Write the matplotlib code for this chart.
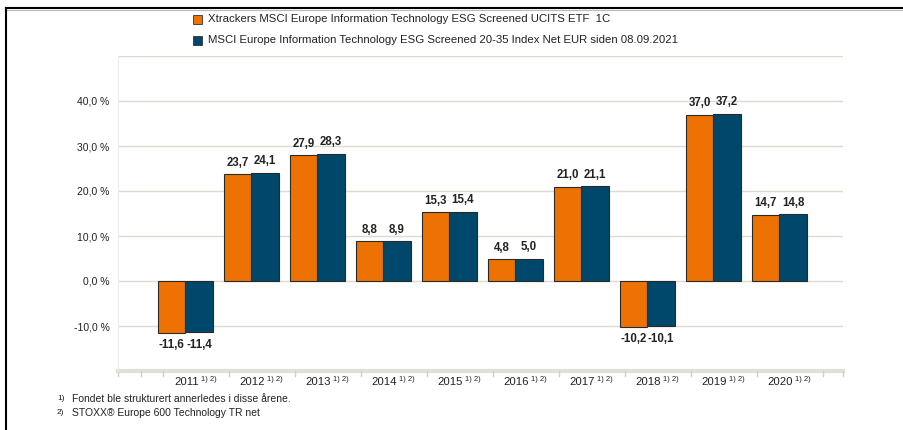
import matplotlib
matplotlib.use("Agg")
import matplotlib.pyplot as plt
from matplotlib.patches import Rectangle
from matplotlib.lines import Line2D
import numpy as np

plt.rcParams['font.family'] = ['Liberation Sans', 'DejaVu Sans']

years = ["2011", "2012", "2013", "2014", "2015", "2016", "2017", "2018", "2019", "2020"]
fund = [-11.6, 23.7, 27.9, 8.8, 15.3, 4.8, 21.0, -10.2, 37.0, 14.7]
index = [-11.4, 24.1, 28.3, 8.9, 15.4, 5.0, 21.1, -10.1, 37.2, 14.8]
series_names = ["Xtrackers MSCI Europe Information Technology ESG Screened UCITS ETF  1C",
                "MSCI Europe Information Technology ESG Screened 20-35 Index Net EUR siden 08.09.2021"]
yticks = [-10, 0, 10, 20, 30, 40]
footnotes = ["Fondet ble strukturert annerledes i disse årene.",
             "STOXX® Europe 600 Technology TR net"]

c_fund = "#EE7203"
c_index = "#00486B"
grid_c = "#DDD9D3"

W, H = 904, 430
fig = plt.figure(figsize=(W / 100, H / 100), dpi=100)

# axes placement in pixels
ax_l, ax_r, ax_t, ax_b = 118, 843, 56, 371
ax = fig.add_axes([ax_l / W, 1 - ax_b / H, (ax_r - ax_l) / W, (ax_b - ax_t) / H])

n = len(years)
x = np.arange(n)
bw = 0.41
off = -0.16
ax.bar(x + off - bw / 2, fund, bw, color=c_fund, edgecolor="#2a2a2a", linewidth=0.8, zorder=3)
ax.bar(x + off + bw / 2, index, bw, color=c_index, edgecolor="#2a2a2a", linewidth=0.8, zorder=3)

ax.set_ylim(-20, 50)
ax.set_xlim(-0.5 - 45 / 66, n - 0.5 + 20 / 66)

for v in [-10, 0, 10, 20, 30, 40, 50]:
    ax.axhline(v, color=grid_c, linewidth=1.0, zorder=1)

for s in ["top", "right", "bottom"]:
    ax.spines[s].set_visible(False)
ax.spines["left"].set_color("#EEEBE7")
ax.spines["left"].set_linewidth(0.8)

ax.set_yticks(yticks)
ax.set_yticklabels([f"{v:.1f}".replace(".", ",") + " %" for v in yticks], fontsize=7.5, color="#222222")
ax.tick_params(axis="y", length=0, pad=6)
ax.set_xticks([])

# bottom band
ax.axhline(-20, color="#E2DED8", linewidth=3.0, zorder=2, clip_on=False)
tick_pos = [-0.5 - 45 / 66, -0.5 - 22 / 66] + [i - 0.5 for i in range(n + 1)] + [n - 0.5 + 20 / 66]
for tp in tick_pos:
    ax.plot([tp, tp], [-20, -21.2], color="#D3CEC7", linewidth=1.0, clip_on=False, zorder=2)

# value labels
def fmt(v):
    return f"{v:.1f}".replace(".", ",")

for i in range(n):
    for val, xo in [(fund[i], off - bw / 2), (index[i], off + bw / 2)]:
        if val >= 0:
            ax.text(i + xo, val + 1.2, fmt(val), ha="center", va="bottom", fontsize=8.3, fontweight="bold", color="#222222")
        else:
            ax.text(i + xo, val - 1.4, fmt(val), ha="center", va="top", fontsize=8.3, fontweight="bold", color="#222222")

# year labels
trans = ax.get_xaxis_transform()
for i, yr in enumerate(years):
    ax.text(i + 0.04, -0.035, yr, ha="right", va="center", fontsize=8.2, color="#222222", transform=trans)
    ax.text(i + 0.08, -0.027, "1) 2)", ha="left", va="center", fontsize=5.5, color="#222222", transform=trans)

# legend
for k, (name, col) in enumerate(zip(series_names, [c_fund, c_index])):
    yc = 19 + 21 * k
    fig.patches.append(Rectangle((193 / W, 1 - (yc + 4.5) / H), 9 / W, 9 / H, transform=fig.transFigure,
                                 facecolor=col, edgecolor="#333333", linewidth=0.6))
    fig.text(208 / W, 1 - yc / H, name, ha="left", va="center", fontsize=8.2, color="#222222")

# footnotes
for k, t in enumerate(footnotes):
    yc = 399 + 14 * k
    fig.text(57 / W, 1 - yc / H, f"{k + 1})", ha="left", va="center", fontsize=6, color="#222222")
    fig.text(72 / W, 1 - yc / H, t, ha="left", va="center", fontsize=7.5, color="#222222")

# frame
fig.add_artist(Line2D([6 / W, 1], [1 - 8 / H, 1 - 8 / H], transform=fig.transFigure, color="black", linewidth=1.5))
fig.add_artist(Line2D([6 / W, 1], [1 - 10 / H, 1 - 10 / H], transform=fig.transFigure, color="#BBBBBB", linewidth=0.8))
fig.add_artist(Line2D([6 / W, 6 / W], [1 - 8 / H, 0], transform=fig.transFigure, color="black", linewidth=1.5))

fig.savefig("out.png", dpi=100)
